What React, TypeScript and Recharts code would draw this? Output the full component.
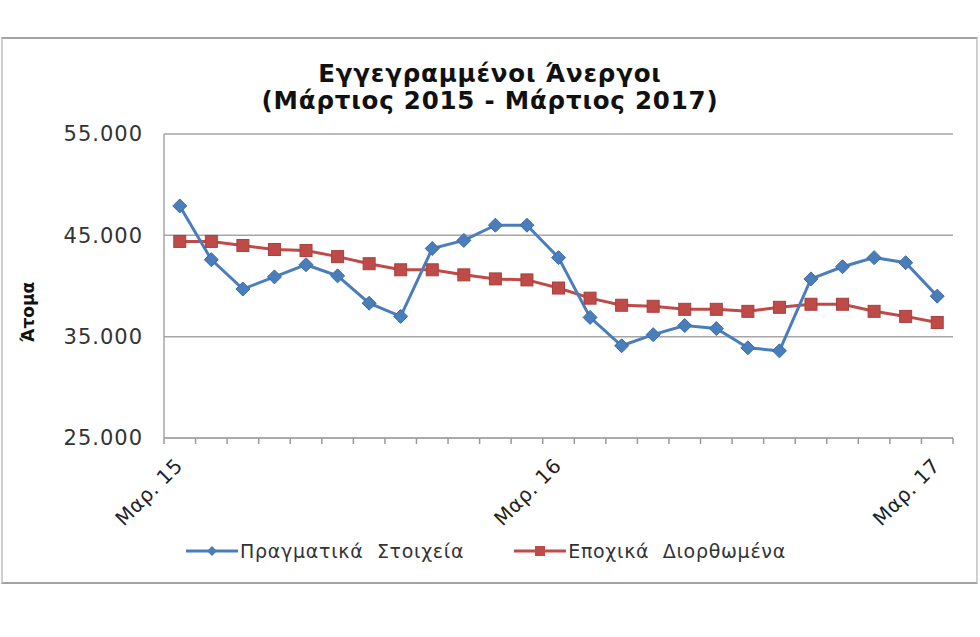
import { ComposedChart, Line, XAxis, YAxis, CartesianGrid, Legend } from 'recharts';

const months = [
  'Μαρ. 15', 'Απρ. 15', 'Μαϊ. 15', 'Ιουν. 15', 'Ιουλ. 15', 'Αυγ. 15', 'Σεπ. 15', 'Οκτ. 15', 'Νοε. 15',
  'Δεκ. 15', 'Ιαν. 16', 'Φεβ. 16', 'Μαρ. 16', 'Απρ. 16', 'Μαϊ. 16', 'Ιουν. 16', 'Ιουλ. 16', 'Αυγ. 16',
  'Σεπ. 16', 'Οκτ. 16', 'Νοε. 16', 'Δεκ. 16', 'Ιαν. 17', 'Φεβ. 17', 'Μαρ. 17',
];
const actual = [
  47900, 42600, 39700, 40900, 42100, 41000, 38300, 37000, 43700, 44500, 46000, 46000, 42800,
  36900, 34100, 35200, 36100, 35800, 33900, 33600, 40700, 41900, 42800, 42300, 39000,
];
const adjusted = [
  44400, 44400, 44000, 43600, 43500, 42900, 42200, 41600, 41600, 41100, 40700, 40600, 39800,
  38800, 38100, 38000, 37700, 37700, 37500, 37900, 38200, 38200, 37500, 37000, 36400,
];
const yTicks = [25000, 35000, 45000, 55000];
const labelTicks = [0, 12, 24];
// tick marks sit between the months
const boundaryTicks = months.map((_, i) => i - 0.5).concat([months.length - 0.5]);

const seriesNames = ['Πραγματικά  Στοιχεία', 'Εποχικά  Διορθωμένα'];
const BLUE = '#4a7ebb';
const RED = '#be4b48';
const FONT = '"DejaVu Sans", Verdana, sans-serif';

const data = months.map((m, i) => ({ idx: i, month: m, actual: actual[i], adjusted: adjusted[i] }));

const yFmt = (v: number) => `${Math.round(v / 1000)}.000`;

const Diamond = (props: any) => {
  const { cx, cy } = props;
  if (cx == null || cy == null) return null;
  const r = 7;
  return (
    <polygon
      points={`${cx},${cy - r} ${cx + r},${cy} ${cx},${cy + r} ${cx - r},${cy}`}
      fill={BLUE}
      stroke="#3b6aa5"
      strokeWidth={1}
    />
  );
};

const Square = (props: any) => {
  const { cx, cy } = props;
  if (cx == null || cy == null) return null;
  const s = 6;
  return <rect x={cx - s} y={cy - s} width={s * 2} height={s * 2} fill={RED} stroke="#a8403d" strokeWidth={1} />;
};

const NoLabel = () => <g />;

const MonthTick = (props: any) => {
  const { x, y, payload } = props;
  const ax = x + 4;
  const ay = y + 27;
  return (
    <text
      x={ax}
      y={ay}
      transform={`rotate(-45, ${ax}, ${ay})`}
      textAnchor="end"
      fontSize={20}
      letterSpacing={0.5}
      fontFamily={FONT}
      fill="#222"
    >
      {months[payload.value]}
    </text>
  );
};

const LegendContent = () => (
  <div
    style={{
      display: 'flex',
      justifyContent: 'center',
      gap: 50,
      fontFamily: FONT,
      fontSize: 19,
      letterSpacing: 0.7,
      color: '#333',
      marginLeft: -8,
    }}
  >
    {seriesNames.map((name, i) => (
      <div key={name} style={{ display: 'flex', alignItems: 'center' }}>
        <svg width={52} height={16} style={{ marginRight: 2 }}>
          <line x1={0} y1={8} x2={52} y2={8} stroke={i === 0 ? BLUE : RED} strokeWidth={3} />
          {i === 0 ? (
            <polygon points="26,3 31,8 26,13 21,8" fill={BLUE} />
          ) : (
            <rect x={21} y={3} width={10} height={10} fill={RED} />
          )}
        </svg>
        <span style={{ whiteSpace: 'pre' }}>{name}</span>
      </div>
    ))}
  </div>
);

export default function App() {
  return (
    <div style={{ position: 'absolute', left: 0, top: 0, width: 980, height: 637, background: '#fff' }}>
      <div
        style={{
          position: 'absolute',
          left: 1,
          top: 37,
          width: 977,
          height: 547,
          border: '2px solid #a3a3a3',
          borderLeftColor: '#cfcfcf',
          borderRightColor: '#cfcfcf',
          boxSizing: 'border-box',
        }}
      />
      <div
        style={{
          position: 'absolute',
          left: 0,
          top: 60,
          width: 980,
          textAlign: 'center',
          fontFamily: FONT,
          fontWeight: 'bold',
          fontSize: 24.5,
          letterSpacing: 0.8,
          lineHeight: '27px',
          color: '#111',
        }}
      >
        Εγγεγραμμένοι Άνεργοι
        <br />
        (Μάρτιος 2015 - Μάρτιος 2017)
      </div>
      <div
        style={{
          position: 'absolute',
          left: 28,
          top: 312,
          transform: 'translate(-50%, -50%) rotate(-90deg)',
          fontFamily: FONT,
          fontWeight: 'bold',
          fontSize: 17,
          color: '#111',
          whiteSpace: 'nowrap',
        }}
      >
        Άτομα
      </div>
      <div style={{ position: 'absolute', left: 0, top: 0 }}>
        <ComposedChart width={980} height={637} data={data} margin={{ top: 134, right: 27, bottom: 0, left: 0 }}>
          <CartesianGrid vertical={false} stroke="#a6a6a6" strokeWidth={1.5} />
          <YAxis
            domain={[25000, 55000]}
            ticks={yTicks}
            tickFormatter={yFmt}
            width={164}
            axisLine={{ stroke: '#a6a6a6', strokeWidth: 1.5 }}
            tickLine={false}
            tickSize={6}
            tickMargin={15}
            tick={{ fill: '#333', fontSize: 21, letterSpacing: 1, fontFamily: FONT }}
          />
          <XAxis
            xAxisId="a"
            type="number"
            dataKey="idx"
            domain={[-0.5, months.length - 0.5]}
            ticks={boundaryTicks}
            allowDataOverflow
            interval={0}
            tick={<NoLabel />}
            tickSize={6}
            tickLine={{ stroke: '#9a9a9a', strokeWidth: 1.5 }}
            axisLine={{ stroke: '#a6a6a6', strokeWidth: 1.5 }}
            height={2}
          />
          <XAxis
            xAxisId="b"
            type="number"
            dataKey="idx"
            domain={[-0.5, months.length - 0.5]}
            ticks={labelTicks}
            allowDataOverflow
            interval={0}
            axisLine={false}
            tickLine={false}
            tickSize={0}
            tickMargin={0}
            tick={<MonthTick />}
            height={197}
          />
          <Legend
            layout="horizontal"
            verticalAlign="middle"
            align="center"
            wrapperStyle={{ top: 540, left: 0, width: 980 }}
            content={<LegendContent />}
          />
          <Line
            xAxisId="a"
            dataKey="adjusted"
            name={seriesNames[1]}
            stroke={RED}
            strokeWidth={3}
            dot={<Square />}
            isAnimationActive={false}
          />
          <Line
            xAxisId="b"
            dataKey="actual"
            name={seriesNames[0]}
            stroke={BLUE}
            strokeWidth={3}
            dot={<Diamond />}
            isAnimationActive={false}
          />
        </ComposedChart>
      </div>
    </div>
  );
}
